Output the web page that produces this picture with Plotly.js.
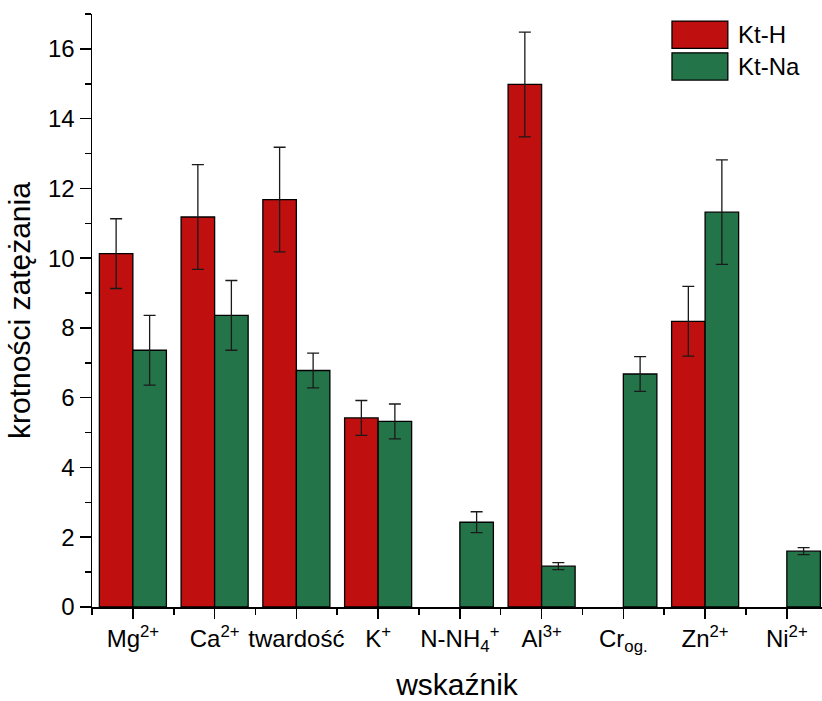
<!DOCTYPE html>
<html>
<head>
<meta charset="utf-8">
<script src="https://cdn.plot.ly/plotly-3.0.1.min.js"></script>
<style>
html, body { margin: 0; padding: 0; background: #fff; }
#chart { width: 822px; height: 701px; }
</style>
</head>
<body>
<div id="chart"></div>
<script>
// ---- data ----
const categories = ["Mg<sup>2+</sup>", "Ca<sup>2+</sup>", "twardość", "K<sup>+</sup>",
  "N-NH<sub>4</sub><sup>+</sup>", "Al<sup>3+</sup>", "Cr<sub>og.</sub>", "Zn<sup>2+</sup>", "Ni<sup>2+</sup>"];
const seriesNames = ["Kt-H", "Kt-Na"];
const ktH    = [10.13, 11.18, 11.68, 5.42, null, 14.98, null, 8.19, null];
const ktHErr = [1.0, 1.5, 1.5, 0.5, null, 1.5, null, 1.0, null];
const ktNa    = [7.36, 8.36, 6.78, 5.32, 2.43, 1.17, 6.68, 11.32, 1.6];
const ktNaErr = [1.0, 1.0, 0.5, 0.5, 0.3, 0.1, 0.5, 1.5, 0.1];
const yTicks = [0, 2, 4, 6, 8, 10, 12, 14, 16];

// ---- styling ----
const red = "#C00F0F";
const green = "#247449";
const font = "Liberation Sans, Arial, sans-serif";
const xIdx = categories.map((c, i) => i);

function barTrace(name, y, err, color) {
  return {
    type: "bar", name: name, x: xIdx, y: y,
    marker: { color: color, line: { color: "#000", width: 1.3 } },
    error_y: { type: "data", array: err, visible: true, color: "#1a1a1a", thickness: 1.3, width: 6 },
    showlegend: false
  };
}

const data = [
  barTrace(seriesNames[0], ktH, ktHErr, red),
  barTrace(seriesNames[1], ktNa, ktNaErr, green)
];

// manual legend (large swatches like the reference)
const legendColors = [red, green];
const shapes = [];
const annotations = [];
seriesNames.forEach((n, i) => {
  const y1 = 0.988 - i * 0.0535;
  const y0 = y1 - 0.046;
  shapes.push({ type: "rect", xref: "paper", yref: "paper", x0: 0.7945, x1: 0.871, y0: y0, y1: y1,
    fillcolor: legendColors[i], line: { color: "#000", width: 1.3 } });
  annotations.push({ xref: "paper", yref: "paper", x: 0.882, y: (y0 + y1) / 2, xanchor: "left", yanchor: "middle",
    text: n, showarrow: false, font: { family: font, size: 24, color: "#000" } });
});

const layout = {
  width: 822, height: 701,
  margin: { l: 92, r: 0, t: 14, b: 94 },
  paper_bgcolor: "#fff", plot_bgcolor: "#fff",
  barmode: "group", bargap: 0.18, bargroupgap: 0,
  font: { family: font, color: "#000" },
  xaxis: {
    type: "linear", range: [-0.5, 8.43],
    tickvals: xIdx, ticktext: categories,
    showgrid: false, zeroline: false,
    showline: true, linecolor: "#000", linewidth: 1.5,
    ticks: "outside", ticklen: 10, tickwidth: 1.5, tickcolor: "#000",
    minor: { tickvals: xIdx.map(i => i - 0.5).concat([8.5]), ticks: "outside", ticklen: 6, tickwidth: 1.5, tickcolor: "#000", showgrid: false },
    tickfont: { family: font, size: 24, color: "#000" },
    title: { text: "wskaźnik", font: { family: font, size: 30, color: "#000" }, standoff: 20 }
  },
  yaxis: {
    range: [0, 17],
    tickvals: yTicks,
    showgrid: false, zeroline: false,
    showline: true, linecolor: "#000", linewidth: 1.5,
    ticks: "outside", ticklen: 11, tickwidth: 1.5, tickcolor: "#000",
    minor: { dtick: 1, tick0: 0, ticks: "outside", ticklen: 6, tickwidth: 1.5, tickcolor: "#000", showgrid: false },
    tickfont: { family: font, size: 24, color: "#000" },
    title: { text: "krotności zatężania", font: { family: font, size: 30, color: "#000" }, standoff: 8 }
  },
  shapes: shapes,
  annotations: annotations
};

Plotly.newPlot("chart", data, layout, { displayModeBar: false, staticPlot: true });
</script>
</body>
</html>
